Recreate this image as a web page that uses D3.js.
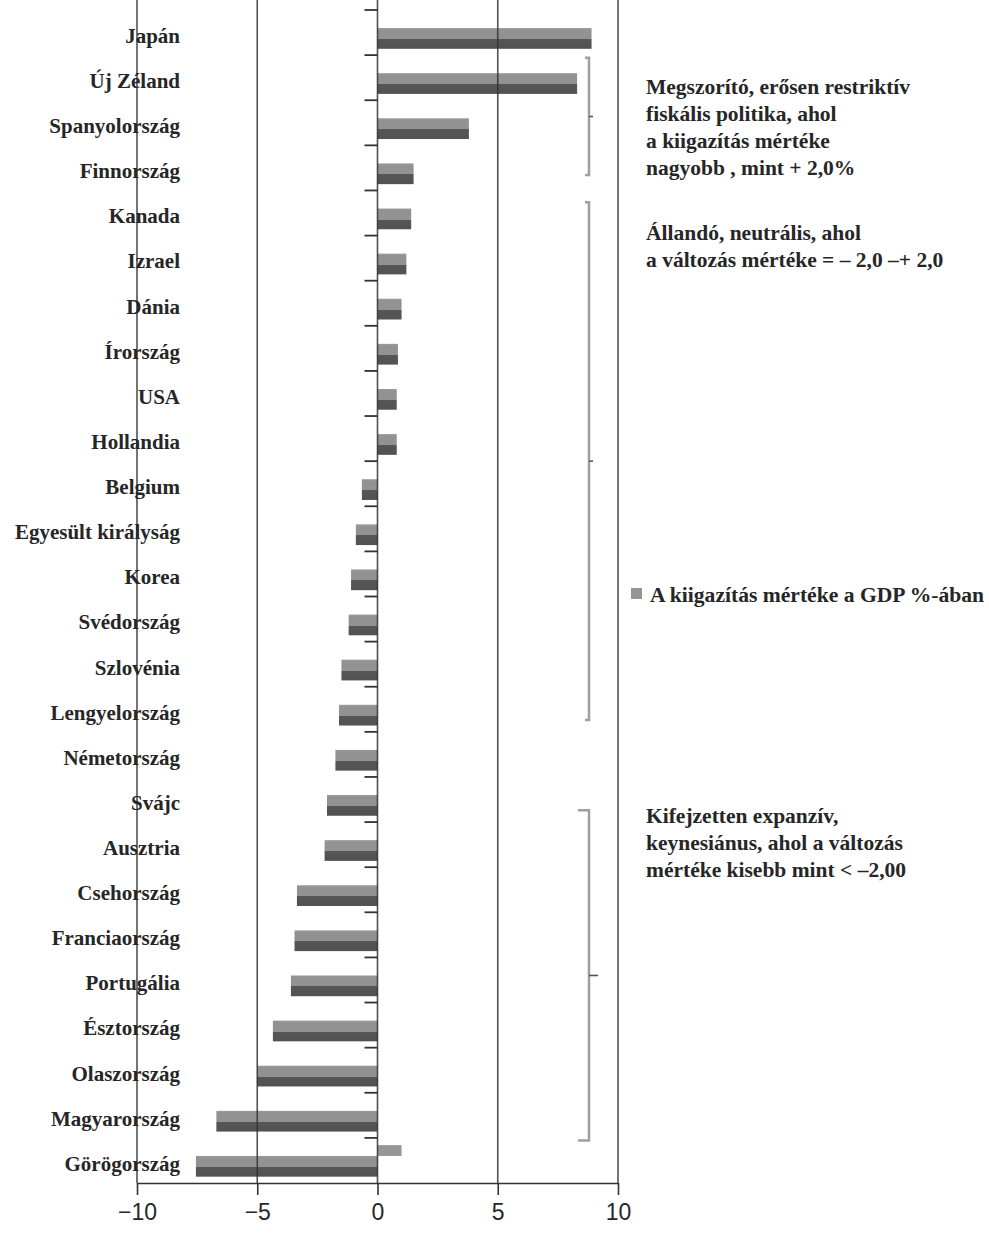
<!DOCTYPE html>
<html>
<head>
<meta charset="utf-8">
<script src="https://cdn.jsdelivr.net/npm/d3@7"></script>
<style>
  body { margin: 0; background: #fff; }
  text { font-family: 'Liberation Serif', 'Times New Roman', serif; fill: #262626; }
</style>
</head>
<body>
<svg id="chart" width="989" height="1245"></svg>
<script>
var countries = ["Japán", "Új Zéland", "Spanyolország", "Finnország", "Kanada", "Izrael", "Dánia",
  "Írország", "USA", "Hollandia", "Belgium", "Egyesült királyság", "Korea", "Svédország", "Szlovénia",
  "Lengyelország", "Németország", "Svájc", "Ausztria", "Csehország", "Franciaország", "Portugália",
  "Észtország", "Olaszország", "Magyarország", "Görögország"];

// kiigazitas merteke a GDP %-aban
var adjustment = [8.9, 8.3, 3.8, 1.5, 1.4, 1.2, 1.0, 0.85, 0.8, 0.8, -0.65, -0.9, -1.1, -1.2, -1.5,
  -1.6, -1.75, -2.1, -2.2, -3.35, -3.45, -3.6, -4.35, -5.0, -6.7, -7.55];

// the small extra bar above Greece
var extraCountries = ["Görögország"];
var extraValues = [1.0];

var xTicks = [-10, -5, 0, 5, 10];
var legendLabel = "A kiigazítás mértéke a GDP %-ában";

var groupFrom = ["Új Zéland", "Kanada", "Svájc"];
var groupTo = ["Finnország", "Lengyelország", "Magyarország"];
var groupText = [
  ["Megszorító, erősen restriktív", "fiskális politika, ahol", "a kiigazítás mértéke", "nagyobb , mint + 2,0%"],
  ["Állandó, neutrális, ahol", "a változás mértéke = – 2,0 –+ 2,0"],
  ["Kifejzetten expanzív,", "keynesiánus, ahol a változás", "mértéke kisebb mint < –2,00"]
];

var svg = d3.select('#chart');

var x = d3.scaleLinear()
  .domain([-10, 10])
  .range([137, 618]);

var y = d3.scaleBand()
  .domain(countries)
  .range([10, 1183]);
var bw = y.bandwidth();

// two tone bar fill
var grad = svg.append('defs').append('linearGradient')
  .attr('id', 'barFill')
  .attr('x1', 0).attr('y1', 0).attr('x2', 0).attr('y2', 1);
grad.append('stop').attr('offset', 0).attr('stop-color', '#9c9c9c');
grad.append('stop').attr('offset', 0.1).attr('stop-color', '#929292');
grad.append('stop').attr('offset', 0.53).attr('stop-color', '#929292');
grad.append('stop').attr('offset', 0.53).attr('stop-color', '#565656');
grad.append('stop').attr('offset', 1).attr('stop-color', '#525252');

var rows = countries.map(function(c, i) { return {country: c, value: adjustment[i]}; });
var extras = extraCountries.map(function(c, i) { return {country: c, value: extraValues[i]}; });

// bars
svg.append('g')
  .selectAll('rect')
  .data(rows)
  .enter()
  .append('rect')
    .attr('x', function(d) { return x(Math.min(0, d.value)); })
    .attr('width', function(d) { return Math.abs(x(d.value) - x(0)); })
    .attr('y', function(d) { return y(d.country) + bw * 0.4; })
    .attr('height', bw * 0.46)
    .attr('fill', 'url(#barFill)');

svg.append('g')
  .selectAll('rect')
  .data(extras)
  .enter()
  .append('rect')
    .attr('x', function(d) { return x(Math.min(0, d.value)); })
    .attr('width', function(d) { return Math.abs(x(d.value) - x(0)); })
    .attr('y', function(d) { return y(d.country) + bw * 0.16; })
    .attr('height', bw * 0.24)
    .attr('fill', '#979797');

// vertical grid lines
svg.append('g')
  .selectAll('line')
  .data(xTicks)
  .enter()
  .append('line')
    .attr('x1', function(d) { return x(d); })
    .attr('x2', function(d) { return x(d); })
    .attr('y1', 0)
    .attr('y2', 1183)
    .attr('stroke', '#333')
    .attr('stroke-opacity', 0.85)
    .attr('stroke-width', 1.6);

// x axis
var xAxis = svg.append('g')
  .attr('transform', 'translate(0,1183)')
  .call(d3.axisBottom(x).tickValues(xTicks).tickSize(12).tickSizeOuter(0).tickPadding(9));
xAxis.select('.domain').attr('stroke', '#333').attr('stroke-width', 1.6);
xAxis.selectAll('.tick line').attr('stroke', '#333').attr('stroke-width', 1.6);
xAxis.selectAll('.tick text')
  .style('font-family', "'Liberation Sans Narrow', 'Arial Narrow', 'Liberation Sans', sans-serif")
  .style('font-size', '23px')
  .attr('fill', '#333');

// category ticks on the zero line
svg.append('g')
  .selectAll('line')
  .data(countries)
  .enter()
  .append('line')
    .attr('x1', x(0) - 13)
    .attr('x2', x(0))
    .attr('y1', function(d) { return y(d); })
    .attr('y2', function(d) { return y(d); })
    .attr('stroke', '#333')
    .attr('stroke-width', 1.8);

// category labels
svg.append('g')
  .selectAll('text')
  .data(countries)
  .enter()
  .append('text')
    .attr('x', 180)
    .attr('y', function(d) { return y(d) + bw / 2 + 3; })
    .attr('dy', '0.35em')
    .attr('text-anchor', 'end')
    .style('font-size', '21px')
    .style('font-weight', 'bold')
    .text(function(d) { return d; });

// group brackets + texts
var bracketTop = [0.06, 0.26, 0.74];
var bracketBottom = [0.66, 0.74, 1.06];
var serif = [4, 4, 11];
var textDy = [29, 30, 5];

groupFrom.forEach(function(from, i) {
  var top = y(from) + bw * bracketTop[i];
  var bottom = y(groupTo[i]) + bw * bracketBottom[i];
  var mid = (top + bottom) / 2;
  var bx = 589;
  svg.append('path')
    .attr('d', 'M' + (bx - serif[i]) + ',' + top + 'H' + bx + 'V' + bottom + 'H' + (bx - serif[i]))
    .attr('fill', 'none')
    .attr('stroke', '#9f9f9f')
    .attr('stroke-width', 2.5);
  svg.append('line')
    .attr('x1', bx).attr('x2', bx + 4 + (i == 2 ? 5 : 0))
    .attr('y1', mid).attr('y2', mid)
    .attr('stroke', '#555')
    .attr('stroke-width', 1.6);

  svg.append('g')
    .selectAll('text')
    .data(groupText[i])
    .enter()
    .append('text')
      .attr('x', 646)
      .attr('y', function(d, j) { return top + textDy[i] + j * 27; })
      .attr('dy', '0.35em')
      .style('font-size', '21.5px')
      .style('font-weight', 'bold')
      .text(function(d) { return d; });
});

// legend
svg.append('rect')
  .attr('x', 631).attr('y', 588)
  .attr('width', 11).attr('height', 11)
  .attr('fill', '#959595');
svg.append('text')
  .attr('x', 650).attr('y', 594)
  .attr('dy', '0.35em')
  .style('font-size', '21.6px')
  .style('font-weight', 'bold')
  .text(legendLabel);
</script>
</body>
</html>
